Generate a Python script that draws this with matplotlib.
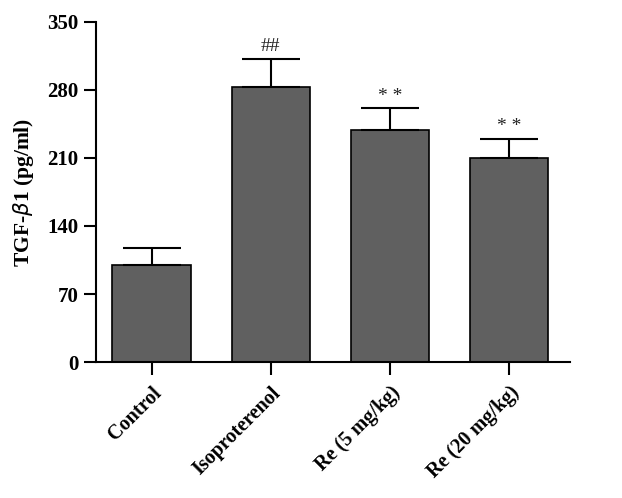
import matplotlib
matplotlib.use("Agg")
import matplotlib.pyplot as plt

groups = ["Control", "Isoproterenol", "Re (5 mg/kg)", "Re (20 mg/kg)"]
means = [100, 283, 239, 210]
errors = [17, 29, 22, 20]
marks = ["", "##", "* *", "* *"]

plt.rcParams["font.family"] = ["Liberation Serif", "DejaVu Serif"]

fig = plt.figure(figsize=(6.22, 4.98), dpi=100)
ax = fig.add_axes([0.154, 0.273, 0.762, 0.683])

x = range(len(groups))
ax.bar(x, means, width=0.66, color="#606060", edgecolor="black", linewidth=1.2,
       yerr=[[0] * len(errors), errors],
       error_kw=dict(ecolor="black", elinewidth=1.5, capsize=21, capthick=1.5),
       zorder=2)
for i, (m, e, s) in enumerate(zip(means, errors, marks)):
    if s:
        ax.text(i, m + e + 4, s, ha="center", va="bottom", fontsize=14,
                color="#222222")

ax.set_xlim(-0.47, 3.51)
ax.set_ylim(0, 350)
ax.set_yticks([0, 70, 140, 210, 280, 350])
ax.set_xticks(list(x))
ax.set_xticklabels(groups, rotation=45, ha="right", rotation_mode="anchor",
                   fontsize=14.5, fontweight="bold")
for lab in ax.get_yticklabels():
    lab.set_fontsize(15)
    lab.set_fontweight("bold")
ax.set_ylabel(r"TGF-$\mathit{\beta}$1 (pg/ml)", fontsize=15.5, fontweight="bold",
              labelpad=8)

ax.spines["top"].set_visible(False)
ax.spines["right"].set_visible(False)
ax.spines["left"].set_linewidth(1.5)
ax.spines["bottom"].set_linewidth(1.5)
ax.tick_params(axis="both", direction="out", length=9, width=1.5)
ax.tick_params(axis="x", pad=6)

fig.savefig("out.png", dpi=100)
